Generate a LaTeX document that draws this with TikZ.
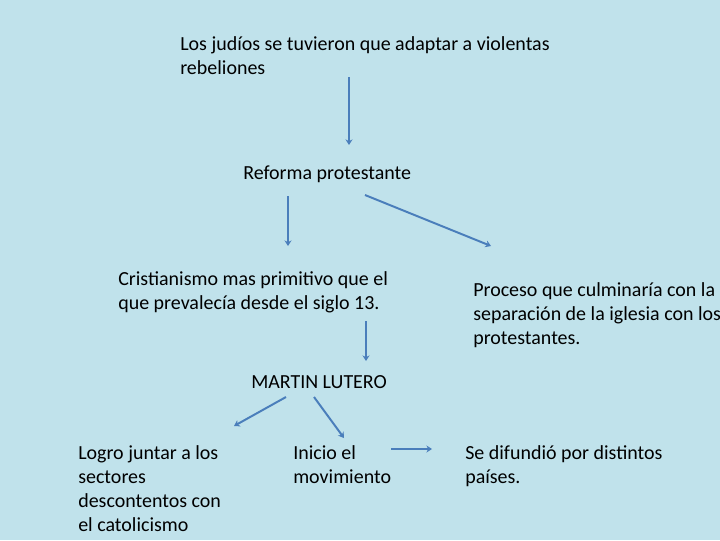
\documentclass[tikz,border=0pt]{standalone}
\usepackage{fontspec}
\setmainfont{Carlito}
\usetikzlibrary{arrows.meta}

\definecolor{bgblue}{RGB}{192,226,235}
\definecolor{arrowblue}{RGB}{74,126,187}

\tikzset{
  txt/.style={anchor=base west, align=left, inner sep=0pt,
    font=\fontsize{14.2}{16.9}\selectfont},
  arr/.style={draw=arrowblue, line width=1.4pt,
    -{Stealth[length=4pt,width=5pt]}}
}

\begin{document}
\begin{tikzpicture}[x=0.025cm, y=-0.025cm]

    % Background and frame
    \fill[bgblue] (0,0) rectangle (720,540);
    \useasboundingbox (0,0) rectangle (720,540);

    % Text blocks (placed at the baseline of their last line)
    \node[txt] (rebel) at (180,74) {Los judíos se tuvieron que adaptar a violentas\\rebeliones};
    \node[txt] (reforma) at (243,179) {Reforma protestante};
    \node[txt] (cristian) at (118,309) {Cristianismo mas primitivo que el\\que prevalecía desde el siglo 13.};
    \node[txt] (proceso) at (473,344) {Proceso que culminaría con la\\separación de la iglesia con los\\protestantes.};
    \node[txt] (lutero) at (251,388) {MARTIN LUTERO};
    \node[txt] (logro) at (78,531) {Logro juntar a los\\sectores\\descontentos con\\el catolicismo};
    \node[txt] (inicio) at (293,483) {Inicio el\\movimiento};
    \node[txt] (difund) at (465,483) {Se difundió por distintos\\países.};

    % Arrow end points
    \coordinate (rebelout) at (349,77);      % below rebeliones
    \coordinate (reformain) at (349,145);    % above Reforma
    \coordinate (reformaL) at (288,196);     % Reforma, left arrow
    \coordinate (cristianin) at (288,246);   % above Cristianismo
    \coordinate (reformaR) at (365,195);     % Reforma, right arrow
    \coordinate (procesoin) at (491,246);    % above Proceso
    \coordinate (cristianout) at (366,321);  % below siglo 13
    \coordinate (luteroin) at (366,361);     % above MARTIN LUTERO
    \coordinate (luteroL) at (286,397);      % Lutero, left arrow
    \coordinate (logroin) at (234,426);      % above Logro
    \coordinate (luteroR) at (314,397);      % Lutero, right arrow
    \coordinate (inicioin) at (344,438);     % above Inicio
    \coordinate (inicioout) at (391,449);    % right of Inicio
    \coordinate (difundin) at (432,449);     % left of Se difundio

    % Arrows
    \draw[arr] (rebelout) -- (reformain);
    \draw[arr] (reformaL) -- (cristianin);
    \draw[arr] (reformaR) -- (procesoin);
    \draw[arr] (cristianout) -- (luteroin);
    \draw[arr] (luteroL) -- (logroin);
    \draw[arr] (luteroR) -- (inicioin);
    \draw[arr] (inicioout) -- (difundin);

\end{tikzpicture}
\end{document}
